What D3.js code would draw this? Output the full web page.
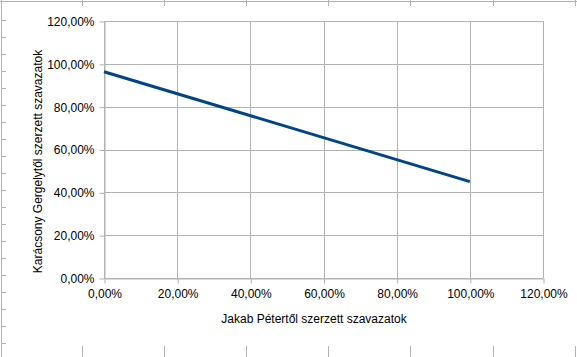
<!DOCTYPE html>
<html><head><meta charset="utf-8">
<script src="https://cdn.jsdelivr.net/npm/d3@7"></script>
<style>html,body{margin:0;padding:0;background:#fff;}svg{display:block;font-family:"Liberation Sans",Arial,sans-serif;}</style>
</head><body>
<svg id="c" width="577" height="357"></svg>
<script>
const xValues = [0, 1.0];
const yValues = [0.963, 0.45];
const xTicks = [0, 0.2, 0.4, 0.6, 0.8, 1.0, 1.2];
const yTicks = [0, 0.2, 0.4, 0.6, 0.8, 1.0, 1.2];
const xTitle = "Jakab Pétertől szerzett szavazatok";
const yTitle = "Karácsony Gergelytől szerzett szavazatok";

const W = 577, H = 357;
const m = {left: 104, right: 543, top: 21, bottom: 278};
const svg = d3.select("#c");
const loc = d3.formatLocale({decimal: ",", thousands: " ", grouping: [3], currency: ["", "€"]});
const fmt = loc.format(".2%");
const grey = "#b3b3b3";

// spreadsheet background artifacts
const bg = svg.append("g").attr("stroke", grey).attr("stroke-width", 1);
bg.append("line").attr("x1", 1.5).attr("x2", 1.5).attr("y1", 0).attr("y2", H);
bg.append("line").attr("x1", 0).attr("x2", W).attr("y1", 1.5).attr("y2", 1.5);
const cols = d3.range(82, W + 1, 82.1);
cols.forEach(cx => {
  const px = Math.round(cx) + 0.5;
  bg.append("line").attr("x1", px).attr("x2", px).attr("y1", 0).attr("y2", 6);
  bg.append("line").attr("x1", px).attr("x2", px).attr("y1", 346).attr("y2", H);
});
d3.range(20, 345, 17).forEach(ry => {
  bg.append("line").attr("x1", 1).attr("x2", 6).attr("y1", ry + 0.5).attr("y2", ry + 0.5);
});

const x = d3.scaleLinear().domain([0, 1.2]).range([m.left, m.right]);
const y = d3.scaleLinear().domain([0, 1.2]).range([m.bottom, m.top]);

// gridlines
const grid = svg.append("g").attr("stroke", grey).attr("stroke-width", 1);
yTicks.forEach(t => {
  const py = Math.round(y(t)) + 0.5;
  grid.append("line").attr("x1", m.left).attr("x2", m.right).attr("y1", py).attr("y2", py);
});
xTicks.forEach(t => {
  const px = Math.round(x(t)) + 0.5;
  grid.append("line").attr("x1", px).attr("x2", px).attr("y1", m.top).attr("y2", m.bottom);
});

// axes
const xAxis = svg.append("g").attr("transform", `translate(0.5,${Math.round(m.bottom) + 0.5})`)
  .call(d3.axisBottom(x).tickValues(xTicks).tickFormat(fmt).tickSizeOuter(0).tickSizeInner(5).tickPadding(6));
const yAxis = svg.append("g").attr("transform", `translate(${m.left + 0.5},0.5)`)
  .call(d3.axisLeft(y).tickValues(yTicks).tickFormat(fmt).tickSizeOuter(0).tickSizeInner(5).tickPadding(5));
[xAxis, yAxis].forEach(a => {
  a.select(".domain").attr("stroke", grey);
  a.selectAll(".tick line").attr("stroke", grey);
  a.selectAll(".tick text").attr("fill", "#000").attr("font-size", 12)
    .attr("font-family", '"Liberation Sans", Arial, sans-serif');
});

// line
const line = d3.line().x(d => x(d[0])).y(d => y(d[1]));
svg.append("path").datum(xValues.map((v, i) => [v, yValues[i]]))
  .attr("d", line).attr("fill", "none").attr("stroke", "#004586").attr("stroke-width", 3);

// titles
svg.append("text").attr("x", 314).attr("y", 323).attr("text-anchor", "middle")
  .attr("font-size", 12).attr("fill", "#000").text(xTitle);
svg.append("text").attr("transform", "translate(42,161.5) rotate(-90)").attr("text-anchor", "middle")
  .attr("font-size", 12).attr("fill", "#000").text(yTitle);
</script>
</body></html>
